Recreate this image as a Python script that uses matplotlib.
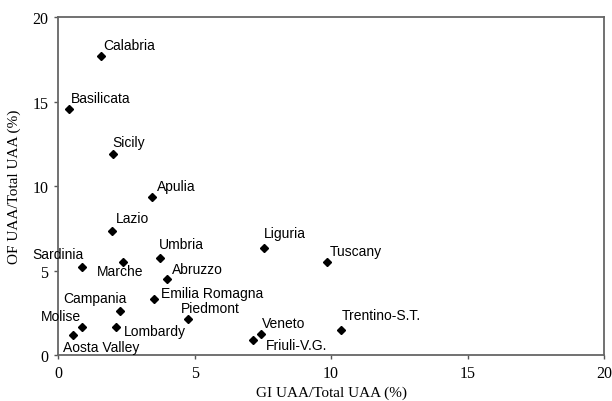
import matplotlib
matplotlib.use('Agg')
import matplotlib.pyplot as plt

# Regions and their shares (%)
regions = ['Calabria', 'Basilicata', 'Sicily', 'Apulia', 'Lazio', 'Umbria',
           'Liguria', 'Tuscany', 'Sardinia', 'Marche', 'Abruzzo',
           'Emilia Romagna', 'Campania', 'Piedmont', 'Molise', 'Lombardy',
           'Aosta Valley', 'Veneto', 'Friuli-V.G.', 'Trentino-S.T.']
gi_share = [1.58, 0.40, 2.0, 3.44, 1.98, 3.72, 7.55, 9.85, 0.88, 2.37, 4.0,
            3.53, 2.26, 4.74, 0.88, 2.11, 0.55, 7.45, 7.13, 10.35]
of_share = [17.7, 14.56, 11.9, 9.35, 7.34, 5.74, 6.33, 5.5, 5.2, 5.5, 4.5,
            3.3, 2.6, 2.13, 1.65, 1.65, 1.17, 1.24, 0.9, 1.48]

# label offsets in points (dx, dy) and horizontal alignment
label_pos = {
    'Calabria': (1.5, 8, 'left'), 'Basilicata': (1.5, 8, 'left'),
    'Sicily': (0, 8.5, 'left'), 'Apulia': (3.5, 8, 'left'),
    'Lazio': (3, 9.5, 'left'), 'Umbria': (-0.5, 10, 'left'),
    'Liguria': (-0.5, 11, 'left'), 'Tuscany': (2, 8, 'left'),
    'Sardinia': (1, 9.5, 'right'), 'Marche': (-2, -6, 'center'),
    'Abruzzo': (3, 7.5, 'left'), 'Emilia Romagna': (5, 4.5, 'left'),
    'Campania': (5, 9.5, 'right'), 'Piedmont': (-5, 8, 'left'),
    'Molise': (-0.5, 8, 'right'), 'Lombardy': (6, -3, 'left'),
    'Aosta Valley': (-7.5, -8, 'left'), 'Veneto': (0.5, 8, 'left'),
    'Friuli-V.G.': (9.5, -3.5, 'left'), 'Trentino-S.T.': (0.5, 11, 'left'),
}

fig = plt.figure(figsize=(6.12, 4.02), dpi=100)
ax = fig.add_axes([0.095, 0.114, 0.892, 0.841])

ax.plot(gi_share, of_share, 'D', color='black', markersize=4.5, linestyle='none')

for name, x, y in zip(regions, gi_share, of_share):
    dx, dy, ha = label_pos[name]
    ax.annotate(name, (x, y), xytext=(dx, dy), textcoords='offset points',
                ha=ha, va='center', fontsize=10, family='Liberation Sans')

ax.set_xlim(0, 20)
ax.set_ylim(0, 20)
ax.set_xticks([0, 5, 10, 15, 20])
ax.set_yticks([0, 5, 10, 15, 20])
for lbl in ax.get_xticklabels() + ax.get_yticklabels():
    lbl.set_family('Liberation Serif')
    lbl.set_fontsize(11.5)
ax.tick_params(length=3, width=1, color='#555555', pad=4)
for s in ax.spines.values():
    s.set_color('#666666')
    s.set_linewidth(1.3)

ax.set_xlabel('GI UAA/Total UAA (%)', family='Liberation Serif', fontsize=11, labelpad=3)
ax.set_ylabel('OF UAA/Total UAA (%)', family='Liberation Serif', fontsize=11, labelpad=8)

fig.savefig('out.png', dpi=100)
